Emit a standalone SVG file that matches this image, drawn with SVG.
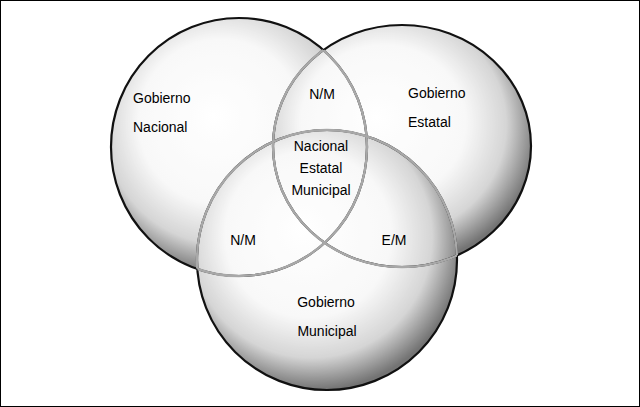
<svg xmlns="http://www.w3.org/2000/svg" width="640" height="407" viewBox="0 0 640 407">
<style>
text{font-family:"Liberation Sans",Arial,sans-serif;font-size:14px;fill:#000}
.c{text-anchor:middle}
.o{fill:none;stroke:#111;stroke-width:2.2}
.i{fill:none;stroke:#a8a8a8;stroke-width:2.4}
</style>
<defs>
<radialGradient id="g" cx="0.45" cy="0.42" r="0.58" fx="0.4" fy="0.38">
<stop offset="0" stop-color="#fff"/>
<stop offset="0.55" stop-color="#f6f6f6"/>
<stop offset="0.8" stop-color="#c4c4c4"/>
<stop offset="1" stop-color="#3a3a3a"/>
</radialGradient>
<clipPath id="k1"><ellipse cx="402" cy="146" rx="129" ry="121"/><ellipse cx="327" cy="260" rx="130" ry="130"/></clipPath>
<clipPath id="k2"><ellipse cx="239" cy="147" rx="128" ry="129"/><ellipse cx="327" cy="260" rx="130" ry="130"/></clipPath>
<clipPath id="k3"><ellipse cx="239" cy="147" rx="128" ry="129"/><ellipse cx="402" cy="146" rx="129" ry="121"/></clipPath>
</defs>
<rect x="0.5" y="0.5" width="639" height="406" fill="#fff" stroke="#000"/>
<g id="fills" opacity="0.7">
<ellipse cx="239" cy="147" rx="128" ry="129" fill="url(#g)"/>
<ellipse cx="402" cy="146" rx="129" ry="121" fill="url(#g)"/>
<ellipse cx="327" cy="260" rx="130" ry="130" fill="url(#g)"/>
</g>
<g id="outlines">
<ellipse class="o" cx="239" cy="147" rx="128" ry="129"/>
<ellipse class="o" cx="402" cy="146" rx="129" ry="121"/>
<ellipse class="o" cx="327" cy="260" rx="130" ry="130"/>
<g clip-path="url(#k1)"><ellipse class="i" cx="239" cy="147" rx="128" ry="129"/></g>
<g clip-path="url(#k2)"><ellipse class="i" cx="402" cy="146" rx="129" ry="121"/></g>
<g clip-path="url(#k3)"><ellipse class="i" cx="327" cy="260" rx="130" ry="130"/></g>
</g>
<g id="nacional"><text x="133" y="103">Gobierno</text><text x="133" y="132">Nacional</text></g>
<g id="estatal"><text x="408" y="98">Gobierno</text><text x="408" y="127">Estatal</text></g>
<g id="municipal"><text class="c" x="326" y="307">Gobierno</text><text class="c" x="327" y="336">Municipal</text></g>
<g id="nm1"><text class="c" x="322" y="99">N/M</text></g>
<g id="all"><text class="c" x="321" y="151">Nacional</text><text class="c" x="321" y="173">Estatal</text><text class="c" x="321" y="195">Municipal</text></g>
<g id="nm2"><text class="c" x="243" y="245">N/M</text></g>
<g id="em"><text class="c" x="394" y="245">E/M</text></g>
</svg>
